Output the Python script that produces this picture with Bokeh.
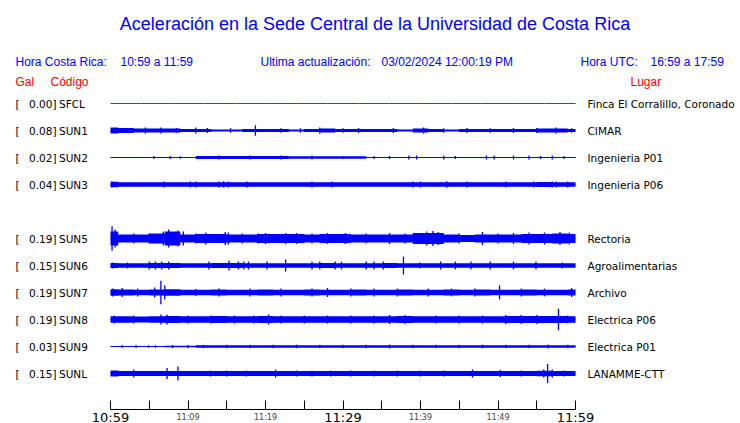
from bokeh.plotting import figure
from bokeh.models import Range1d, LinearAxis, FixedTicker
from bokeh.core.properties import value
from bokeh.embed import file_html
from bokeh.resources import INLINE

# ---------------- data ----------------
TITLE = "Aceleración en la Sede Central de la Universidad de Costa Rica"
CODES = ["SFCL", "SUN1", "SUN2", "SUN3", "SUN5", "SUN6", "SUN7", "SUN8", "SUN9", "SUNL"]
ROWS = [0, 1, 2, 3, 5, 6, 7, 8, 9, 10]
PEAK = [0.00, 0.08, 0.02, 0.04, 0.19, 0.15, 0.19, 0.19, 0.03, 0.15]
PLACES = ["Finca El Corralillo, Coronado", "CIMAR", "Ingenieria P01", "Ingenieria P06",
          "Rectoria", "Agroalimentarias", "Archivo", "Electrica P06", "Electrica P01",
          "LANAMME-CTT"]

# minutes after 10:59, envelope sampled every 2 minutes
T = list(range(0, 61, 2))

# background half-amplitude (Gal)
ENV_SFCL = [0.0] * 31
ENV_SUN1 = [.046, .038, .031, .031, .031, .023, .023, .015, .015, .023, .023, .023, .015, .023, .031, .023,
            .023, .023, .023, .015, .031, .023, .015, .023, .023, .023, .023, .023, .031, .031, .023]
ENV_SUN2 = [.005, .005, .005, .005, .005, .005, .023, .023, .023, .023, .023, .023, .018, .018, .018, .018,
            .018, .006, .006, .006, .006, .006, .006, .006, .006, .006, .006, .006, .006, .006, .006]
ENV_SUN3 = [.043, .036, .035, .035, .035, .035, .035, .035, .035, .035, .035, .035, .035, .035, .035, .035,
            .035, .035, .035, .035, .035, .035, .035, .035, .035, .035, .036, .036, .037, .036, .036]
ENV_SUN5 = [.108, .062, .062, .077, .108, .062, .069, .069, .062, .062, .069, .069, .069, .062, .069, .069,
            .062, .062, .062, .062, .085, .085, .062, .054, .062, .062, .062, .069, .069, .077, .069]
ENV_SUN6 = [.038, .035, .035, .038, .038, .035, .035, .038, .038, .035, .035, .035, .035, .035, .038, .035,
            .035, .035, .038, .035, .035, .035, .035, .035, .035, .035, .035, .035, .035, .035, .035]
ENV_SUN7 = [.050, .045, .042, .045, .050, .042, .042, .045, .042, .042, .045, .042, .042, .045, .042, .042,
            .045, .042, .042, .045, .042, .042, .045, .042, .045, .042, .042, .045, .042, .042, .045]
ENV_SUN8 = [.050, .050, .046, .050, .054, .050, .050, .054, .050, .050, .054, .050, .050, .050, .050, .050,
            .050, .050, .050, .054, .050, .050, .050, .050, .050, .050, .054, .054, .054, .054, .050]
ENV_SUN9 = [.005, .005, .005, .005, .011, .011, .020, .020, .020, .020, .020, .020, .020, .020, .020, .020,
            .020, .020, .020, .020, .020, .020, .020, .020, .020, .020, .020, .020, .020, .020, .020]
ENV_SUNL = [.046, .038, .038, .038, .040, .038, .038, .038, .038, .038, .040, .038, .038, .038, .038, .038,
            .038, .038, .038, .038, .038, .038, .038, .040, .038, .038, .038, .040, .042, .038, .038]

# individual bursts: (minute, half-amplitude in Gal)
SPK_SFCL = []
SPK_SUN1 = [(2.0, .040), (4.5, .046), (6.5, .046), (8.5, .040), (11, .046), (12.5, .040), (15.5, .035),
            (18.7, .080), (22, .035), (24.5, .035), (27, .046), (30, .035), (32, .038), (36.5, .038),
            (40.4, .046), (43, .035), (46, .038), (49, .035), (52, .038), (55, .040), (57.5, .046), (59.5, .035)]
SPK_SUN2 = [(5.6, .023), (7.7, .023), (9.0, .020), (14, .030), (18, .030), (22, .030), (26, .030), (30, .023),
            (34, .023), (36, .023), (38.5, .030), (39.5, .030), (43, .030), (44.5, .023), (48.5, .030),
            (49.5, .030), (52, .030), (54, .030), (55.5, .023), (57, .030), (58.5, .023)]
SPK_SUN3 = [(0.2, .046), (6.9, .046), (10.3, .046), (11.0, .046), (14.0, .046), (14.6, .050), (15.2, .046),
            (17.6, .046), (26, .046), (28.6, .046), (39, .046), (40, .046), (43.4, .050), (46, .046),
            (51, .046), (54.6, .046), (57, .046), (57.5, .046), (59, .046)]
SPK_SUN5 = [(0.2, .190), (0.6, .138), (3, .077), (5, .077), (6.8, .108), (7.5, .138), (8.7, .123), (9.4, .108),
            (11, .077), (12.3, .092), (14.8, .100), (15.2, .092), (17, .077), (19, .077), (20, .085),
            (22.6, .085), (24, .085), (26, .077), (28, .085), (30.3, .085), (33, .077), (36, .085), (38, .077),
            (40.8, .108), (41.6, .115), (42.3, .100), (45, .077), (48, .100), (50, .077), (52, .085),
            (54, .092), (56, .092), (58, .100), (59.2, .092)]
SPK_SUN6 = [(0.3, .046), (2.2, .046), (5.0, .060), (5.8, .060), (6.6, .060), (7.5, .060), (12.7, .060),
            (15.3, .077), (16.5, .060), (17.2, .060), (17.8, .060), (20.2, .060), (22.6, .092), (26, .060),
            (27, .060), (29, .060), (29.8, .060), (33, .060), (34, .060), (35.2, .060), (37.8, .138),
            (39.9, .046), (42.6, .060), (44.5, .060), (46.5, .060), (49, .060), (52, .060), (54.9, .060),
            (58.3, .046)]
SPK_SUN7 = [(0.3, .060), (1.5, .070), (3.5, .060), (5.7, .077), (6.5, .180), (7.0, .108), (11, .054),
            (14, .060), (18, .060), (22, .060), (26, .060), (28, .070), (31, .060), (34, .060), (37, .060),
            (41, .060), (44, .060), (47, .060), (50.2, .108), (53, .060), (56, .060), (59.5, .070)]
SPK_SUN8 = [(0.5, .062), (3, .062), (6.5, .077), (7.3, .077), (10, .062), (13, .062), (16, .062),
            (18.5, .062), (20.4, .077), (22, .062), (25, .062), (28, .062), (31, .062), (34, .062),
            (36, .070), (38, .070), (42, .062), (45, .062), (48, .062), (51, .070), (53, .070), (55, .070),
            (57.8, .165), (59, .062)]
SPK_SUN9 = [(1.5, .023), (3.3, .023), (4.9, .020), (5.8, .020), (8, .025), (10, .025), (12, .028), (15, .028),
            (18, .028), (21, .028), (24, .028), (27, .028), (30, .028), (33, .028), (36, .030), (39, .028),
            (42, .028), (45, .028), (48, .028), (51, .028), (54, .028), (56.5, .030), (59, .028)]
SPK_SUNL = [(3, .062), (7.3, .085), (8.7, .108), (12.9, .046), (15, .046), (17.5, .046), (21.3, .062),
            (24, .046), (26, .046), (28.4, .046), (31, .046), (34, .046), (37, .046), (40, .046), (43, .046),
            (46.7, .062), (50.3, .054), (53, .046), (55.9, .062), (56.4, .146), (57, .062), (58.5, .046)]

ENVS = [ENV_SFCL, ENV_SUN1, ENV_SUN2, ENV_SUN3, ENV_SUN5, ENV_SUN6, ENV_SUN7, ENV_SUN8, ENV_SUN9, ENV_SUNL]
SPKS = [SPK_SFCL, SPK_SUN1, SPK_SUN2, SPK_SUN3, SPK_SUN5, SPK_SUN6, SPK_SUN7, SPK_SUN8, SPK_SUN9, SPK_SUNL]

TICK_MIN = [0, 10, 20, 30, 40, 50, 60]
TICK_LABELS = ["10:59", "11:09", "11:19", "11:29", "11:39", "11:49", "11:59"]
BIG_TICKS = [0, 30, 60]
MINOR_MIN = [5, 15, 25, 35, 45, 55]

# ---------------- layout ----------------
W, H = 740, 423
PX_PER_MIN = 7.75      # horizontal scale
X0_PX = 110            # picture x of 10:59
ROW_PX = 27            # vertical spacing of traces
ROW0_PX = 103          # picture y of first trace
PX_PER_GAL = 65.0      # display gain
GAIN = PX_PER_GAL / ROW_PX

def xpx(px):
    return (px - X0_PX) / PX_PER_MIN

def ypx(py):
    return (py - ROW0_PX) / ROW_PX

BLUE = "#0000ff"
RED = "#ff0000"
SANS = value("Liberation Sans")
DEJ = value("DejaVu Sans")
LBL_SIZE = "10.5px"

p = figure(width=W, height=H, output_backend="svg", toolbar_location=None,
           x_range=Range1d(xpx(0), xpx(W)), y_range=Range1d(ypx(H), ypx(0)),
           x_axis_type=None, y_axis_type=None, min_border=0)
p.outline_line_color = None
p.xgrid.visible = False
p.ygrid.visible = False
p.background_fill_color = "white"
p.border_fill_color = "white"

# traces
for code, row, env, spk in zip(CODES, ROWS, ENVS, SPKS):
    color = RED if code == "SFCL" else BLUE
    lo = [row - GAIN * a for a in env]
    hi = [row + GAIN * a for a in env]
    if max(env) > 0:
        p.varea_step(x=T, y1=lo, y2=hi, fill_color=color, step_mode="center")
    p.line(x=T, y=[row] * len(T), line_color=color, line_width=1)
    if spk:
        st = [s[0] for s in spk]
        sa = [s[1] for s in spk]
        p.segment(x0=st, x1=st, y0=[row - GAIN * a for a in sa], y1=[row + GAIN * a for a in sa],
                  line_color=color, line_width=1.3)

# station labels
p.text(x=[xpx(15)] * len(ROWS), y=ROWS, text=["["] * len(ROWS), text_font=DEJ,
       text_font_size=LBL_SIZE, text_color="black", text_baseline="middle", text_align="left")
p.text(x=[xpx(56)] * len(ROWS), y=ROWS, text=["%.2f]" % v for v in PEAK], text_font=DEJ,
       text_font_size=LBL_SIZE, text_color="black", text_baseline="middle", text_align="right")
p.text(x=[xpx(58.5)] * len(ROWS), y=ROWS, text=CODES, text_font=DEJ,
       text_font_size=LBL_SIZE, text_color="black", text_baseline="middle", text_align="left")
p.text(x=[xpx(587)] * len(ROWS), y=ROWS, text=PLACES, text_font=DEJ,
       text_font_size=LBL_SIZE, text_color="black", text_baseline="middle", text_align="left")

# title and header
p.text(x=[xpx(374.5)], y=[ypx(23)], text=[TITLE], text_font=SANS, text_font_size="18px",
       text_color=BLUE, text_align="center", text_baseline="middle")
p.text(x=[xpx(15), xpx(120), xpx(260), xpx(381), xpx(580), xpx(650)], y=[ypx(61)] * 6,
       text=["Hora Costa Rica:", "10:59 a 11:59", "Ultima actualización:", "03/02/2024 12:00:19 PM",
             "Hora UTC:", "16:59 a 17:59"],
       text_font=SANS, text_font_size="12px", text_color=BLUE, text_align="left", text_baseline="middle")
p.text(x=[xpx(15), xpx(50), xpx(630)], y=[ypx(81)] * 3, text=["Gal", "Código", "Lugar"],
       text_font=SANS, text_font_size="12px", text_color=RED, text_align="left", text_baseline="middle")

# time axis
AXIS_ROW = ypx(409)
overrides = {m: ("" if m in BIG_TICKS else lab) for m, lab in zip(TICK_MIN, TICK_LABELS)}
ax = LinearAxis(ticker=FixedTicker(ticks=TICK_MIN, minor_ticks=MINOR_MIN), fixed_location=AXIS_ROW,
                bounds=(0, 60), major_tick_in=9, major_tick_out=0, minor_tick_in=9, minor_tick_out=0,
                major_label_overrides=overrides, major_label_text_font="DejaVu Sans",
                major_label_text_font_size="8px", major_label_standoff=3,
                axis_line_color="black", major_tick_line_color="black", minor_tick_line_color="black")
p.add_layout(ax, "below")

big_x = [m for m in TICK_MIN if m in BIG_TICKS]
big_lab = [lab for m, lab in zip(TICK_MIN, TICK_LABELS) if m in BIG_TICKS]
p.text(x=big_x, y=[ypx(416.5)] * len(big_x), text=big_lab, text_font=DEJ, text_font_size="13px",
       text_color="black", text_align="center", text_baseline="middle")

open("out.html", "w").write(file_html(p, INLINE))
